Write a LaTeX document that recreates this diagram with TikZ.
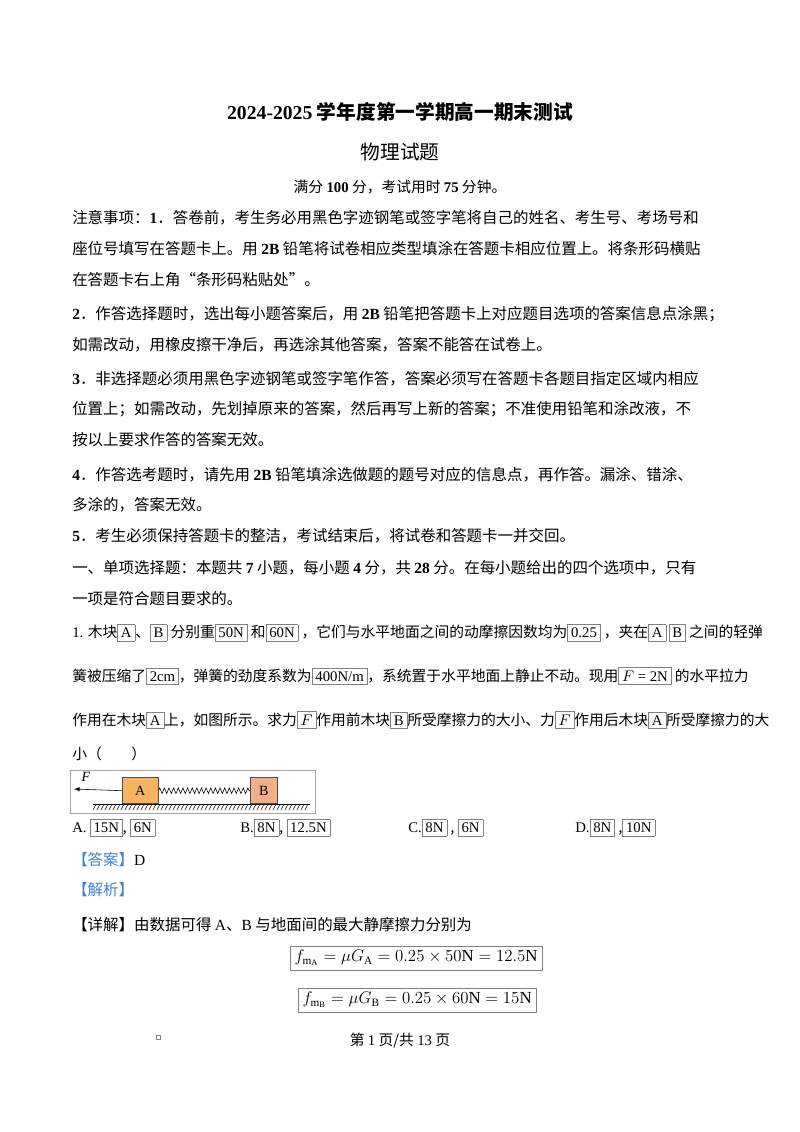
\documentclass[tikz,border=0pt]{standalone}
\usepackage{fontspec}
\setmainfont{Liberation Serif}
\newfontfamily\cjk{Noto Sans CJK SC}
\usetikzlibrary{decorations.pathmorphing,patterns}
\definecolor{ansblue}{RGB}{70,130,200}
\definecolor{blkA}{RGB}{245,180,95}
\definecolor{blkB}{RGB}{240,175,135}
\newcommand{\bx}[1]{{\setlength\fboxsep{2.2pt}\fcolorbox{gray}{white}{\rmfamily #1}}}
\begin{document}
\begin{tikzpicture}[x=0.025cm,y=-0.025cm,
  line/.style={anchor=west,inner sep=0pt,font=\cjk\fontsize{11}{12}\selectfont},
  pline/.style={anchor=west,inner sep=0pt,font=\cjk\fontsize{10.5}{12}\selectfont},
  eqbox/.style={draw=gray,inner sep=3pt,font=\fontsize{12}{14}\selectfont}]
\useasboundingbox (0,0) rectangle (800,1132);
\node[inner sep=0pt,font=\cjk\bfseries\fontsize{14}{16}\selectfont] (t1) at (400,112) {{\rmfamily\bfseries 2024-2025} 学年度第一学期高一期末测试};
\node[inner sep=0pt,font=\cjk\fontsize{14}{16}\selectfont] (t2) at (400,152) {物理试题};
\node[inner sep=0pt,font=\cjk\fontsize{10.5}{12}\selectfont] (t3) at (400,187) {满分 {\rmfamily\bfseries 100} 分，考试用时 {\rmfamily\bfseries 75} 分钟。};
\node[line] (l1) at (72,218) {注意事项：{\rmfamily\bfseries 1}．答卷前，考生务必用黑色字迹钢笔或签字笔将自己的姓名、考生号、考场号和};
\node[line] (l2) at (72,249) {座位号填写在答题卡上。用 {\rmfamily\bfseries 2B} 铅笔将试卷相应类型填涂在答题卡相应位置上。将条形码横贴};
\node[line] (l3) at (72,280) {在答题卡右上角“条形码粘贴处”。};
\node[line] (l4) at (72,314) {{\rmfamily\bfseries 2}．作答选择题时，选出每小题答案后，用 {\rmfamily\bfseries 2B} 铅笔把答题卡上对应题目选项的答案信息点涂黑；};
\node[line] (l5) at (72,345) {如需改动，用橡皮擦干净后，再选涂其他答案，答案不能答在试卷上。};
\node[line] (l6) at (72,379) {{\rmfamily\bfseries 3}．非选择题必须用黑色字迹钢笔或签字笔作答，答案必须写在答题卡各题目指定区域内相应};
\node[line] (l7) at (72,409) {位置上；如需改动，先划掉原来的答案，然后再写上新的答案；不准使用铅笔和涂改液，不};
\node[line] (l8) at (72,440) {按以上要求作答的答案无效。};
\node[line] (l9) at (72,475) {{\rmfamily\bfseries 4}．作答选考题时，请先用 {\rmfamily\bfseries 2B} 铅笔填涂选做题的题号对应的信息点，再作答。漏涂、错涂、};
\node[line] (l10) at (72,505) {多涂的，答案无效。};
\node[line] (l11) at (72,536) {{\rmfamily\bfseries 5}．考生必须保持答题卡的整洁，考试结束后，将试卷和答题卡一并交回。};
\node[line] (l12) at (72,568) {一、单项选择题：本题共 {\rmfamily\bfseries 7} 小题，每小题 {\rmfamily\bfseries 4} 分，共 {\rmfamily\bfseries 28} 分。在每小题给出的四个选项中，只有};
\node[line] (l13) at (72,599) {一项是符合题目要求的。};
\node[pline] (p1) at (72,633) {{\rmfamily 1.} 木块\bx{A}、\bx{B} 分别重\bx{50N}\ 和\bx{60N}\ ，它们与水平地面之间的动摩擦因数均为\bx{0.25}\ ，夹在\bx{A}\,\bx{B}\ 之间的轻弹};
\node[pline] (p2) at (72,676) {簧被压缩了\bx{2cm}，弹簧的劲度系数为\bx{400N/m}，系统置于水平地面上静止不动。现用\bx{$F$ = 2N}\ 的水平拉力};
\node[pline] (p3) at (72,720) {作用在木块\bx{A}上，如图所示。求力\bx{$F$}作用前木块\bx{B}所受摩擦力的大小、力\bx{$F$}作用后木块\bx{A}所受摩擦力的大};
\node[pline] (p4) at (72,754) {小（\qquad）};
% figure
\draw[gray!70] (70,770) rectangle (315,813);
\draw (93,804) -- (310,804);
\foreach \i in {0,...,53} \draw[line width=0.4pt] (96+\i*4,804) -- (93+\i*4,810);
\node[draw=black!70,fill=blkA,minimum width=36*0.025cm,minimum height=26*0.025cm,inner sep=0pt,anchor=south west,font=\rmfamily\fontsize{10}{12}\selectfont] (A) at (122,804) {A};
\node[draw=black!70,fill=blkB,minimum width=27*0.025cm,minimum height=26*0.025cm,inner sep=0pt,anchor=south west,font=\rmfamily\fontsize{10}{12}\selectfont] (B) at (250,804) {B};
\draw[decorate,decoration={zigzag,segment length=3.3pt,amplitude=2pt}] (A.east) -- (B.west);
\coordinate (Fend) at (74,789);
\draw[-latex] (A.west) -- (Fend);
\node[font=\rmfamily\itshape\fontsize{10}{12}\selectfont] (Flab) at (86,777) {F};
\node[pline] (oA) at (72,828) {{\rmfamily A.} \bx{15N}, \bx{6N}};
\node[pline] (oB) at (240,828) {{\rmfamily B.}\bx{8N}, \bx{12.5N}};
\node[pline] (oC) at (408,828) {{\rmfamily C.}\bx{8N}\ , \bx{6N}};
\node[pline] (oD) at (575,828) {{\rmfamily D.}\bx{8N}\ ,\bx{10N}};
\node[line] (ans) at (72,860) {{\color{ansblue}【答案】}{\rmfamily D}};
\node[line] (jx) at (72,890) {{\color{ansblue}【解析】}};
\node[line] (xj) at (72,925) {【详解】由数据可得 {\rmfamily A}、{\rmfamily B} 与地面间的最大静摩擦力分别为};
\node[eqbox,anchor=west] (e1) at (290,958) {$f_{\mathrm{m}_{\mathrm A}}=\mu G_{\mathrm A}=0.25\times50\mathrm{N}=12.5\mathrm{N}$};
\node[eqbox,anchor=west] (e2) at (298,1000) {$f_{\mathrm{m}_{\mathrm B}}=\mu G_{\mathrm B}=0.25\times60\mathrm{N}=15\mathrm{N}$};
\draw[gray] (156,1035) rectangle (160,1039);
\node[inner sep=0pt,font=\cjk\fontsize{10.5}{12}\selectfont] (ft) at (400,1041) {第 {\rmfamily 1} 页/共 {\rmfamily 13} 页};
\end{tikzpicture}
\end{document}
